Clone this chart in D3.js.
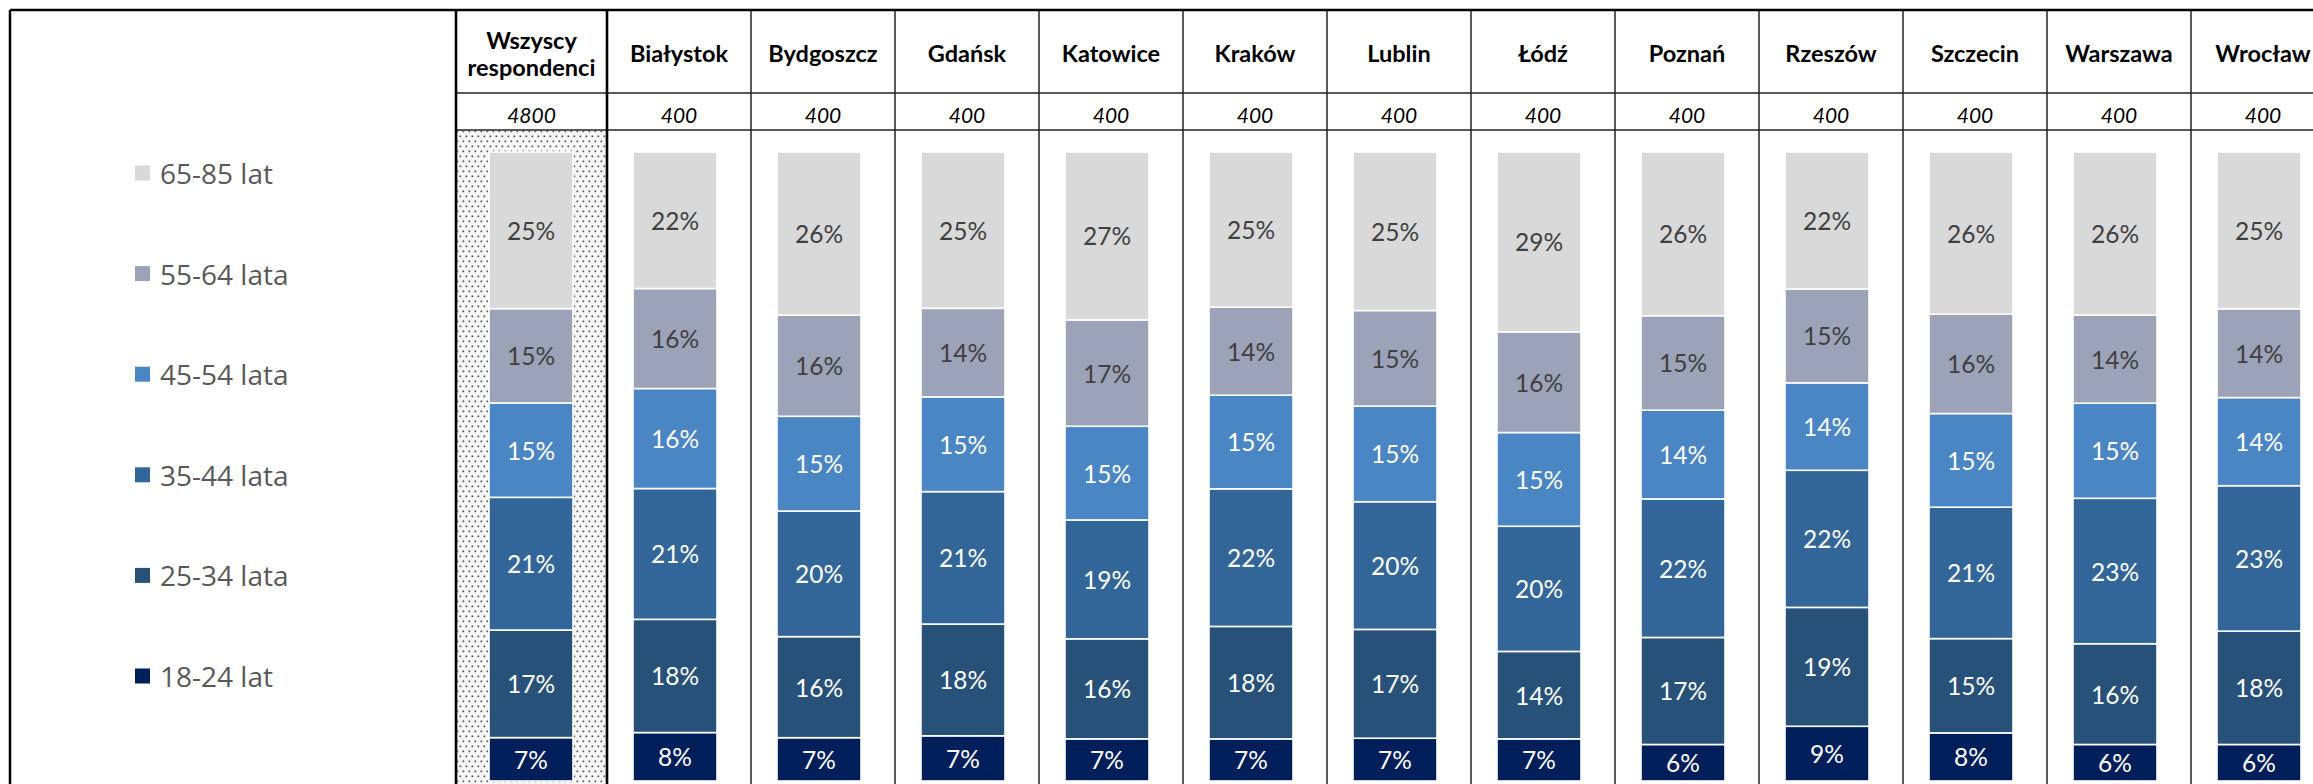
<!DOCTYPE html>
<html><head><meta charset="utf-8">
<script src="https://cdn.jsdelivr.net/npm/d3@7/dist/d3.min.js"></script>
<style>body{margin:0;background:#fff}svg{display:block}</style>
</head><body>
<svg id="chart" width="2313" height="784"></svg>
<script>
// ---- data ----
const categories = ["Wszyscy respondenci","Białystok","Bydgoszcz","Gdańsk","Katowice","Kraków","Lublin","Łódź","Poznań","Rzeszów","Szczecin","Warszawa","Wrocław"];
const sampleSizes = ["4800","400","400","400","400","400","400","400","400","400","400","400","400"];
const ageGroups = ["18-24 lat","25-34 lata","35-44 lata","45-54 lata","55-64 lata","65-85 lat"];
const v18_24 = [6.9,7.7,6.9,7.2,6.7,6.7,6.8,6.7,5.8,8.7,7.65,5.8,5.8];
const v25_34 = [17.1,18.0,16.1,17.8,15.9,17.9,17.3,13.9,17.0,18.9,15.0,16.0,18.0];
const v35_44 = [21.1,20.8,20.0,21.1,18.9,21.9,20.3,19.9,22.0,21.8,20.9,23.1,23.1];
const v45_54 = [15.0,15.9,15.1,15.1,14.9,14.9,15.2,14.9,14.1,13.9,14.9,15.1,14.0];
const v55_64 = [15.0,15.9,16.1,14.1,16.9,14.0,15.2,16.0,15.0,14.9,15.8,14.0,14.1];
const v65_85 = [24.9,21.7,26.0,24.9,26.7,24.7,25.2,28.6,26.0,21.8,25.8,25.9,24.9];
const seriesValues = [v18_24,v25_34,v35_44,v45_54,v55_64,v65_85];

// ---- styles ----
const colors = ["#001e5a","#28517a","#336698","#4a86c4","#9ca2b8","#d9d9d9"];
const labelColors = ["#ffffff","#ffffff","#ffffff","#ffffff","#404040","#404040"];
const FONT = "Lato, 'Open Sans', sans-serif";

const W = 2313, H = 784;
const svg = d3.select("#chart");

const table = categories.map((c,i)=>{
  const o = {cat:c};
  ageGroups.forEach((g,k)=>{ o[g] = seriesValues[k][i]; });
  return o;
});

const pad = 60/144;
const x = d3.scaleBand().domain(categories).range([459, 459 + 144*categories.length])
  .paddingInner(pad).paddingOuter(pad/2);
const y = d3.scaleLinear().domain([0,1]).range([781, 152]);

const stack = d3.stack().keys(ageGroups).offset(d3.stackOffsetExpand);
const stacked = stack(table);

// pattern
const defs = svg.append("defs");
const pat = defs.append("pattern").attr("id","dots").attr("patternUnits","userSpaceOnUse")
  .attr("width",6).attr("height",10);
pat.append("rect").attr("width",6).attr("height",10).attr("fill","#f7f7f7");
pat.append("rect").attr("x",0.5).attr("y",0.5).attr("width",1.7).attr("height",1.7).attr("fill","#555");
pat.append("rect").attr("x",3.5).attr("y",5.5).attr("width",1.7).attr("height",1.7).attr("fill","#555");

// column boundaries derived from band scale
const colLeft = (c,i) => i===0 ? x(c) - 33 : x(c) - x.step()*pad/2 + 4;
const colRight = (c,i) => x(c) + x.bandwidth() + x.step()*pad/2 + 4;

// dotted background for first column
svg.append("rect")
  .attr("x", colLeft(categories[0],0)+1).attr("y",131)
  .attr("width", colRight(categories[0],0) - colLeft(categories[0],0) - 2)
  .attr("height", H-131).attr("fill","url(#dots)");

// bars
const layer = svg.append("g").selectAll("g").data(stacked).join("g")
  .attr("fill",(d,k)=>colors[k]);
layer.selectAll("rect").data(d=>d).join("rect")
  .attr("x",d=>x(d.data.cat))
  .attr("width",x.bandwidth())
  .attr("y",d=>y(d[1]))
  .attr("height",d=>y(d[0])-y(d[1]))
  .attr("stroke","#ffffff").attr("stroke-width",1.6);

// labels
stacked.forEach((s,k)=>{
  svg.append("g").selectAll("text").data(s).join("text")
    .attr("x",d=>x(d.data.cat)+x.bandwidth()/2)
    .attr("y",d=>(y(d[0])+y(d[1]))/2)
    .attr("text-anchor","middle").attr("dominant-baseline","central")
    .attr("font-family",FONT).attr("font-size",24.5)
    .attr("fill",labelColors[k])
    .text(d=>Math.round(d.data[s.key])+"%");
});

// grid lines
const grid = svg.append("g");
grid.append("line").attr("x1",10).attr("x2",W).attr("y1",10).attr("y2",10).attr("stroke","#000").attr("stroke-width",2.5);
grid.append("line").attr("x1",10).attr("x2",10).attr("y1",10).attr("y2",H).attr("stroke","#000").attr("stroke-width",2.5);
grid.append("line").attr("x1",456).attr("x2",W).attr("y1",93).attr("y2",93).attr("stroke","#222").attr("stroke-width",1.5);
grid.append("line").attr("x1",456).attr("x2",W).attr("y1",130).attr("y2",130).attr("stroke","#222").attr("stroke-width",1.5);
categories.forEach((c,i)=>{
  const lx = colLeft(c,i);
  grid.append("line").attr("x1",lx).attr("x2",lx).attr("y1",10).attr("y2",H)
    .attr("stroke", i<=1 ? "#000" : "#222").attr("stroke-width", i<=1 ? 2.6 : 1.5);
});

// header text
categories.forEach((c,i)=>{
  const cx = (colLeft(c,i)+colRight(c,i))/2;
  const t = svg.append("text").attr("x",cx).attr("text-anchor","middle")
    .attr("font-family",FONT).attr("font-weight","bold").attr("font-size",23.5).attr("fill","#000");
  const words = c.split(" ");
  if (words.length>1){
    t.attr("y",40);
    words.forEach((w,j)=>t.append("tspan").attr("x",cx).attr("dy", j===0? 0 : 27).attr("dominant-baseline","central").text(w));
  } else {
    t.attr("y",53).attr("dominant-baseline","central").text(c);
  }
  svg.append("text").attr("x",cx).attr("y",114).attr("text-anchor","middle")
    .attr("dominant-baseline","central")
    .attr("font-family",FONT).attr("font-style","italic").attr("font-size",21).attr("fill","#000")
    .text(sampleSizes[i]);
});

// legend
const legendOrder = ageGroups.slice().reverse();
const ly = d3.scalePoint().domain(legendOrder).range([173, 173+100.6*5]);
const lg = svg.append("g").selectAll("g").data(legendOrder).join("g")
  .attr("transform",d=>`translate(135,${ly(d)})`);
lg.append("rect").attr("x",0).attr("y",-7.5).attr("width",15).attr("height",15)
  .attr("fill",d=>colors[ageGroups.indexOf(d)]);
lg.append("text").attr("x",25).attr("y",0).attr("dominant-baseline","central")
  .attr("font-family","'Open Sans', sans-serif").attr("font-size",28).attr("fill","#595959")
  .text(d=>d);
</script>
</body></html>
